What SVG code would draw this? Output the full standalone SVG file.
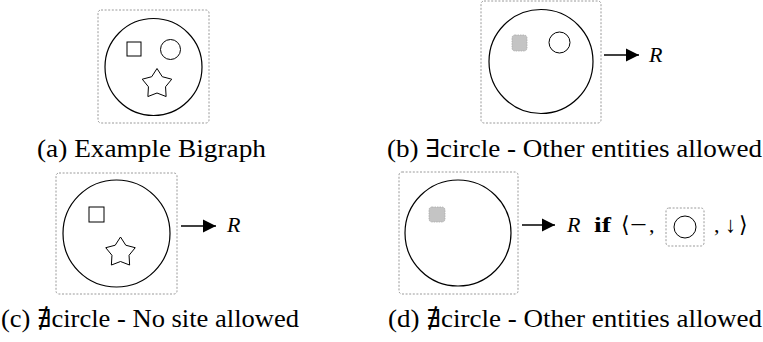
<svg xmlns="http://www.w3.org/2000/svg" width="763" height="342" viewBox="0 0 763 342">
<style>
.frame{fill:none;stroke:#9a9a9a;stroke-width:1;stroke-dasharray:2 1.6}
.ent{fill:none;stroke:#000;stroke-width:1.2}
.small{fill:none;stroke:#000;stroke-width:1}
.site{fill:#c4c4c4;stroke:#ababab;stroke-width:0.8;stroke-dasharray:1.5 1}
.cap{font-family:"Liberation Serif","DejaVu Serif",serif;font-size:25px;fill:#000}
.math{font-family:"Liberation Serif","DejaVu Serif",serif;font-size:22px;fill:#000}
.conn{stroke:#000;stroke-width:1.3;fill:none}
</style>
<defs>
<polygon id="star" points="0,-15.5 5.29,-7.28 14.74,-4.79 8.56,2.78 9.11,12.54 0,9 -9.11,12.54 -8.56,2.78 -14.74,-4.79 -5.29,-7.28" fill="none" stroke="#000" stroke-width="1" stroke-linejoin="round"/>
<marker id="ah" viewBox="0 0 14 14" refX="13" refY="7" markerWidth="14" markerHeight="14" markerUnits="userSpaceOnUse" orient="auto">
<path d="M0,0.5 L13,7 L0,13.5 Z" fill="#000"/>
</marker>
</defs>

<g id="panel-a">
<rect class="frame" x="98" y="10" width="111" height="113" rx="3"/>
<circle class="ent" cx="153.5" cy="67" r="48.5"/>
<rect class="small" x="127" y="42" width="14" height="14"/>
<circle class="small" cx="170.5" cy="49.5" r="10"/>
<use href="#star" x="157" y="84"/>
<text class="cap" x="37" y="157" textLength="229" lengthAdjust="spacingAndGlyphs">(a) Example Bigraph</text>
</g>

<g id="panel-b">
<rect class="frame" x="481" y="1" width="120" height="122" rx="3"/>
<circle class="ent" cx="541" cy="61.5" r="52"/>
<rect class="site" x="512" y="35" width="15" height="16" rx="3"/>
<circle class="small" cx="559.5" cy="42.5" r="10.5"/>
<text class="math" x="649" y="62" font-style="italic">R</text>
<text class="cap" x="387" y="157" textLength="375" lengthAdjust="spacingAndGlyphs">(b) ∃circle - Other entities allowed</text>
</g>

<g id="panel-c">
<rect class="frame" x="56" y="173" width="121" height="121" rx="3"/>
<circle class="ent" cx="116.5" cy="233.5" r="53.5"/>
<rect class="small" x="89" y="207" width="15" height="15"/>
<use href="#star" x="120.5" y="252.5"/>
<text class="math" x="227" y="232" font-style="italic">R</text>
<text class="cap" x="1" y="327" textLength="298" lengthAdjust="spacingAndGlyphs">(c) ∄circle - No site allowed</text>
</g>

<g id="panel-d">
<rect class="frame" x="399" y="172" width="119" height="122" rx="3"/>
<circle class="ent" cx="458" cy="233" r="53"/>
<rect class="site" x="429" y="207" width="16" height="15" rx="3"/>
<text class="math" x="567" y="232" font-style="italic">R</text>
<text class="math" x="594" y="232" font-weight="bold" textLength="17" lengthAdjust="spacingAndGlyphs">if</text>
<text class="math" x="621" y="232">⟨</text>
<text class="math" x="630" y="232" textLength="17" lengthAdjust="spacingAndGlyphs">−</text>
<text class="math" x="649" y="232">,</text>
<rect class="frame" x="666" y="208" width="38" height="38" rx="3"/>
<circle class="small" cx="685" cy="227" r="11"/>
<text class="math" x="714" y="232">,</text>
<text class="math" x="725" y="232">↓</text>
<text class="math" x="739" y="232">⟩</text>
<text class="cap" x="388" y="327" textLength="374" lengthAdjust="spacingAndGlyphs">(d) ∄circle - Other entities allowed</text>
</g>

<g id="connectors">
<line class="conn" x1="604" y1="55" x2="639" y2="55" marker-end="url(#ah)"/>
<line class="conn" x1="181" y1="226" x2="216" y2="226" marker-end="url(#ah)"/>
<line class="conn" x1="522" y1="225" x2="555" y2="225" marker-end="url(#ah)"/>
</g>
</svg>
